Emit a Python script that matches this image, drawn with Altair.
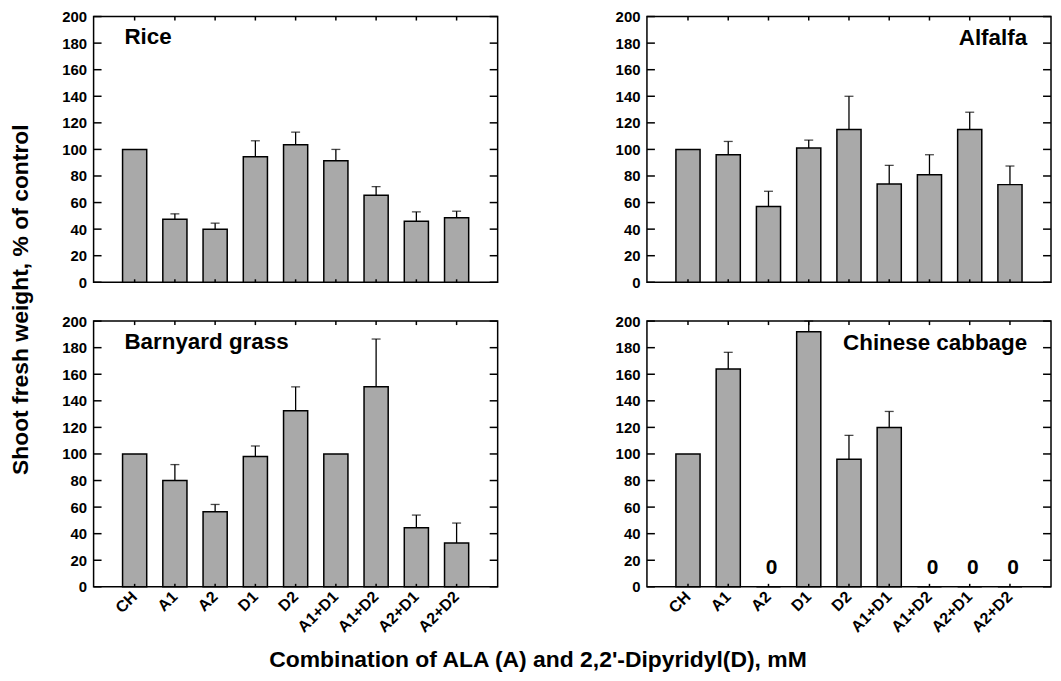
import altair as alt
import pandas as pd

categories = ["CH", "A1", "A2", "D1", "D2", "A1+D1", "A1+D2", "A2+D1", "A2+D2"]

rice_values = [100, 47.5, 40, 94.5, 103.5, 91.5, 65.5, 46, 48.5]
rice_err = [None, 51.5, 44.5, 106.5, 113, 100, 72, 53, 53.5]

alfalfa_values = [100, 96, 57, 101, 115, 74, 81, 115, 73.5]
alfalfa_err = [None, 106, 68.5, 107, 140, 88, 96, 128, 87.5]

barnyard_values = [100, 80, 56.5, 98, 132.5, 100, 150.5, 44.5, 33]
barnyard_err = [None, 92, 62, 106, 150.5, None, 186.5, 54, 48]

cabbage_values = [100, 164, 0, 192, 96, 120, 0, 0, 0]
cabbage_err = [None, 176.5, None, 200, 114, 132, None, None, None]

y_ticks = [0, 20, 40, 60, 80, 100, 120, 140, 160, 180, 200]

y_title = "Shoot fresh weight, % of control"
x_title = "Combination of ALA (A) and 2,2'-Dipyridyl(D), mM"

W, H = 406, 267
FONT = "Liberation Sans"


def panel(name, values, errs, bottom, left, label_side):
    df = pd.DataFrame({"cat": categories, "value": values, "err": errs})
    xscale = alt.Scale(paddingInner=0.4, paddingOuter=0.72)
    if bottom:
        xaxis_kwargs = dict(
            labelAngle=315, labelAlign="right", labelBaseline="middle",
            labelFontSize=16, labelFontWeight="bold", labelPadding=7,
            labelOverlap=False, ticks=False, domain=False,
        )
        if left:
            xaxis = alt.Axis(title=x_title, titleX=446, titleY=73,
                             titleFontSize=23, titleFontWeight="bold",
                             titleBaseline="middle", titleAlign="center",
                             **xaxis_kwargs)
        else:
            xaxis = alt.Axis(title=None, **xaxis_kwargs)
    else:
        xaxis = None

    yaxis_kwargs = dict(values=y_ticks, ticks=False, domain=False, grid=False,
                        labelOverlap=False, labelFontSize=15, labelFontWeight="bold",
                        labelPadding=7)
    if left and not bottom:
        yaxis = alt.Axis(title=y_title, titleX=-73, titleY=284, titleAngle=270,
                         titleFontSize=23, titleFontWeight="bold",
                         titleAlign="center", titleBaseline="middle", **yaxis_kwargs)
    else:
        yaxis = alt.Axis(title=None, **yaxis_kwargs)

    x = alt.X("cat:N", sort=categories, scale=xscale, axis=xaxis)
    yscale = alt.Scale(domain=[0, 200], nice=False, zero=True)
    y_val = alt.Y("value:Q", scale=yscale, axis=yaxis)

    base = alt.Chart(df)
    bars = base.mark_bar(fill="#a9a9a9", stroke="black", strokeWidth=1.5).encode(
        x=x, y=y_val
    )
    err_rule = base.transform_filter("isValid(datum.err)").mark_rule(
        color="black", strokeWidth=1.3
    ).encode(x=x, y=y_val, y2="err:Q")
    err_cap = base.transform_filter("isValid(datum.err)").mark_tick(
        color="black", thickness=1.3, size=9, orient="horizontal"
    ).encode(x=x, y=alt.Y("err:Q", scale=yscale, axis=yaxis))

    tick_df = pd.DataFrame({"value": y_ticks})
    left_ticks = alt.Chart(tick_df).mark_rule(color="black", strokeWidth=1.5).encode(
        y=y_val, x=alt.value(0), x2=alt.value(8)
    )
    right_ticks = alt.Chart(tick_df).mark_rule(color="black", strokeWidth=1.5).encode(
        y=y_val, x=alt.value(W - 8), x2=alt.value(W)
    )
    top_ticks = alt.Chart(pd.DataFrame({"cat": categories})).mark_rule(
        color="black", strokeWidth=1.5
    ).encode(x=x, y=alt.value(0), y2=alt.value(4))
    bottom_ticks = alt.Chart(pd.DataFrame({"cat": categories})).mark_rule(
        color="black", strokeWidth=1.5
    ).encode(x=x, y=alt.value(H - 3), y2=alt.value(H))

    if label_side == "left":
        lab = alt.Chart(pd.DataFrame({"name": [name]})).mark_text(
            align="left", baseline="alphabetic", fontSize=22.5, fontWeight="bold",
            font=FONT, color="black"
        ).encode(text="name:N", x=alt.value(31), y=alt.value(28))
    else:
        lab = alt.Chart(pd.DataFrame({"name": [name]})).mark_text(
            align="right", baseline="alphabetic", fontSize=22.5, fontWeight="bold",
            font=FONT, color="black"
        ).encode(text="name:N", x=alt.value(W - 24), y=alt.value(29))

    layers = [bars, err_rule, err_cap, left_ticks, right_ticks, top_ticks, bottom_ticks, lab]
    if any(v == 0 for v in values):
        zeros = base.transform_filter("datum.value == 0").mark_text(
            fontSize=21, fontWeight="bold", font=FONT, color="black",
            baseline="alphabetic", dy=-13, dx=3
        ).encode(x=x, y=y_val, text=alt.Text("value:Q"))
        layers.append(zeros)

    return alt.layer(*layers).properties(width=W, height=H)


tl = panel("Rice", rice_values, rice_err, bottom=False, left=True, label_side="left")
tr = panel("Alfalfa", alfalfa_values, alfalfa_err, bottom=False, left=False, label_side="right")
bl = panel("Barnyard grass", barnyard_values, barnyard_err, bottom=True, left=True, label_side="left")
br = panel("Chinese cabbage", cabbage_values, cabbage_err, bottom=True, left=False, label_side="right")

chart = alt.concat(
    tl, tr, bl, br, columns=2,
    spacing={"row": 39, "column": 150}, bounds="flush"
).properties(
    padding={"left": 1, "top": -1, "right": 0, "bottom": 0},
    background="white",
).configure(font=FONT).configure_view(
    stroke="black", strokeWidth=1.5
).configure_axis(
    labelColor="black", titleColor="black", labelFont=FONT, titleFont=FONT
).configure_axisY(
    labelOverlap=False, labelFlush=False
)

chart.save("out.html", embed_options={"renderer": "svg", "actions": False})
